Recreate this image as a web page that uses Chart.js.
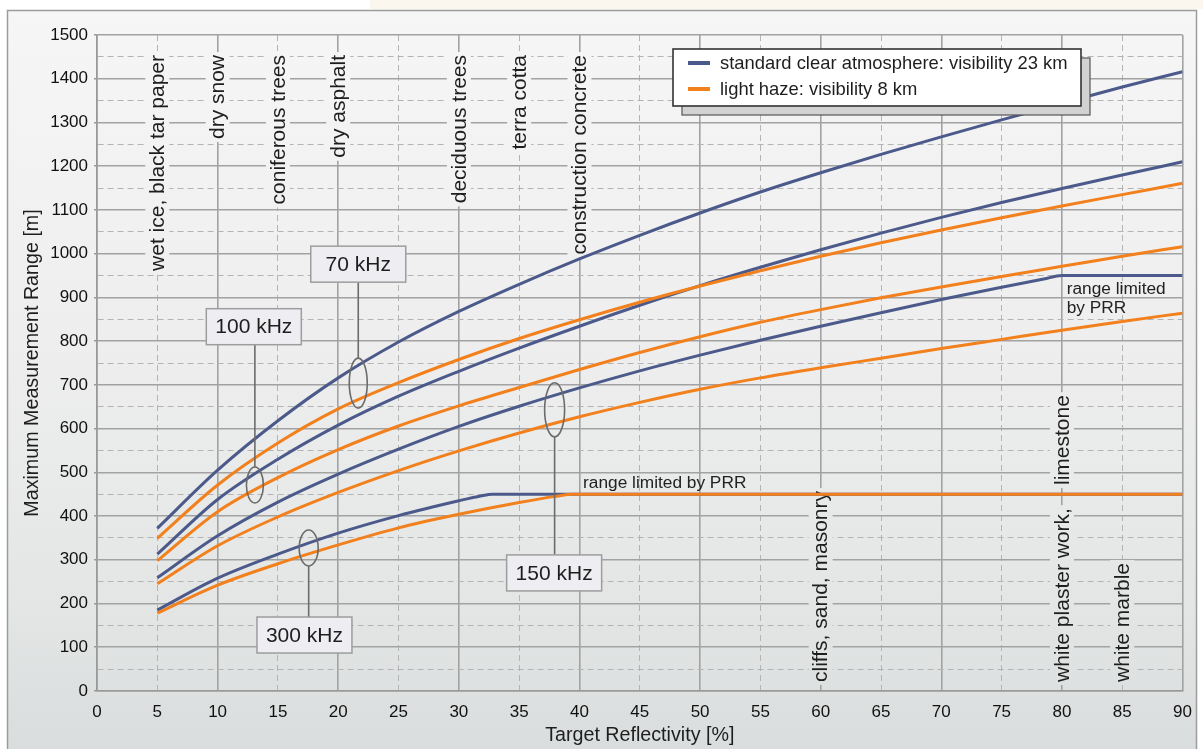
<!DOCTYPE html>
<html>
<head>
<meta charset="utf-8">
<script src="https://cdn.jsdelivr.net/npm/chart.js@4.4.1/dist/chart.umd.min.js"></script>
<style>
html,body{margin:0;padding:0;background:#fff;overflow:hidden}
canvas{display:block}
</style>
</head>
<body>
<canvas id="c" width="1203" height="749"></canvas>
<script>
// ---------- data ----------
const reflectivity = [5,10,15,20,25,30,35,40,45,50,55,60,65,70,75,80,85,90];
const clear70  = [372,505,618,716,798,868,930,988,1042,1093,1141,1185,1227,1267,1306,1344,1381,1416];
const haze70   = [349,471,567,645,705,758,806,849,889,926,961,994,1025,1054,1082,1109,1135,1161];
const clear100 = [313,438,530,608,674,731,784,834,882,927,969,1009,1047,1083,1117,1149,1180,1210];
const haze100  = [298,410,488,552,606,652,694,735,774,810,843,872,899,924,948,971,994,1016];
const clear150X = [5,10,15,20,25,30,35,40,45,50,55,60,65,70,75,78.5,80,85,90];
const clear150  = [259,355,432,496,553,605,651,693,732,768,802,834,865,895,923,942,950,950,950];
const haze150  = [245,332,398,454,504,549,590,627,660,690,716,739,761,783,804,825,845,864];
const clear300X = [5,10,15,20,25,30,31.8,32.8,90];
const clear300  = [185,258,313,361,401,435,446,450,450];
const haze300X  = [5,10,15,20,25,30,35,38,39.5,90];
const haze300   = [178,242,291,334,373,404,431,445,450,450];

const xTicks = [0,5,10,15,20,25,30,35,40,45,50,55,60,65,70,75,80,85,90];
const yTicks = [];
for (let v = 0; v <= 1500; v += 50) yTicks.push(v);

const legendLabels = ['standard clear atmosphere: visibility 23 km', 'light haze: visibility 8 km'];
const blue = '#4b5a8a';
const orange = '#f2801c';

const materialsTop = [
  ['wet ice, black tar paper', 5], ['dry snow', 10], ['coniferous trees', 15], ['dry asphalt', 20],
  ['deciduous trees', 30], ['terra cotta', 35], ['construction concrete', 40]
];
const materialsBottom = [
  ['cliffs, sand, masonry', 60, 0], ['white plaster work,', 80, 0], ['white marble', 85, 0], ['limestone', 80, 471]
];
const freqTags = [
  {label:'70 kHz',  boxX:21.66, boxY:976, ringX:21.66, ringY:704, rx:9,   ry:25},
  {label:'100 kHz', boxX:13.0,  boxY:833, ringX:13.09, ringY:471, rx:8.5, ry:18},
  {label:'150 kHz', boxX:37.9,  boxY:270, ringX:37.94, ringY:643, rx:10,  ry:27},
  {label:'300 kHz', boxX:17.2,  boxY:128, ringX:17.55, ringY:327, rx:9.5, ry:18}
];
const notes = [
  {lines:['range limited by PRR'], x:40.3, y:476},
  {lines:['range limited','by PRR'], x:80.4, y:919}
];

const FONT = '"Liberation Sans", Arial, Helvetica, sans-serif';
const pts = (xs, ys) => xs.map((x, i) => ({x: x, y: ys[i]}));

function bgGradient(ctx) {
  const g = ctx.createLinearGradient(0, 10, 0, 749);
  g.addColorStop(0, '#f6f6f6');
  g.addColorStop(0.45, '#eeeeee');
  g.addColorStop(0.8, '#e4e6e6');
  g.addColorStop(1, '#dadddd');
  return g;
}

const backgroundPlugin = {
  id: 'pageBg',
  beforeDraw(chart) {
    const ctx = chart.ctx;
    ctx.save();
    ctx.fillStyle = '#ffffff';
    ctx.fillRect(0, 0, chart.width, chart.height);
    ctx.fillStyle = '#fcf7ee';
    ctx.fillRect(370, 0, chart.width - 370, 9);
    ctx.fillStyle = bgGradient(ctx);
    ctx.fillRect(7, 10, 1190, 745);
    ctx.strokeStyle = '#9c9c9c';
    ctx.lineWidth = 1.5;
    ctx.strokeRect(7.5, 10.5, 1189, 745);
    ctx.restore();
  }
};

const materialPlugin = {
  id: 'materials',
  beforeDatasetsDraw(chart) {
    const ctx = chart.ctx, xs = chart.scales.x, ys = chart.scales.y, area = chart.chartArea;
    ctx.save();
    ctx.font = '21px ' + FONT;
    const grad = bgGradient(ctx);
    const drawOne = (text, px, yStart) => {
      const w = ctx.measureText(text).width;
      ctx.fillStyle = grad;
      ctx.fillRect(px - 12, yStart - w - 3, 24, w + 6);
      ctx.save();
      ctx.translate(px, yStart);
      ctx.rotate(-Math.PI / 2);
      ctx.fillStyle = '#1e1e1e';
      ctx.textAlign = 'left';
      ctx.textBaseline = 'middle';
      ctx.fillText(text, 0, 1);
      ctx.restore();
    };
    materialsTop.forEach(([t, x]) => {
      const w = ctx.measureText(t).width;
      drawOne(t, xs.getPixelForValue(x), area.top + 20 + w);
    });
    materialsBottom.forEach(([t, x, yv]) => {
      const yStart = yv ? ys.getPixelForValue(yv) : area.bottom - 9;
      drawOne(t, xs.getPixelForValue(x), yStart);
    });
    ctx.restore();
  }
};

const annotationPlugin = {
  id: 'freqTags',
  afterDatasetsDraw(chart) {
    const ctx = chart.ctx, xs = chart.scales.x, ys = chart.scales.y;
    ctx.save();
    // notes
    ctx.fillStyle = '#222';
    ctx.font = '17.3px ' + FONT;
    ctx.textAlign = 'left';
    ctx.textBaseline = 'middle';
    notes.forEach(n => {
      const px = xs.getPixelForValue(n.x), py = ys.getPixelForValue(n.y);
      n.lines.forEach((l, i) => ctx.fillText(l, px, py + i * 19));
    });
    // tags
    freqTags.forEach(t => {
      const bx = xs.getPixelForValue(t.boxX), by = ys.getPixelForValue(t.boxY);
      const rx = xs.getPixelForValue(t.ringX), ry = ys.getPixelForValue(t.ringY);
      const bw = 95, bh = 36;
      ctx.strokeStyle = '#6b6b6b';
      ctx.lineWidth = 1.6;
      ctx.beginPath();
      ctx.ellipse(rx, ry, t.rx, t.ry, 0, 0, Math.PI * 2);
      ctx.stroke();
      ctx.beginPath();
      if (by < ry) { ctx.moveTo(rx, by + bh / 2); ctx.lineTo(rx, ry - t.ry); }
      else { ctx.moveTo(rx, by - bh / 2); ctx.lineTo(rx, ry + t.ry); }
      ctx.stroke();
      ctx.fillStyle = '#eeeef2';
      ctx.fillRect(bx - bw / 2, by - bh / 2, bw, bh);
      ctx.strokeStyle = '#9d9d9d';
      ctx.lineWidth = 1.5;
      ctx.strokeRect(bx - bw / 2, by - bh / 2, bw, bh);
      ctx.fillStyle = '#1e1e1e';
      ctx.font = '21px ' + FONT;
      ctx.textAlign = 'center';
      ctx.textBaseline = 'middle';
      ctx.fillText(t.label, bx, by + 1);
    });
    // legend
    const L = {x: 673, y: 49, w: 408, h: 57};
    ctx.fillStyle = '#d2d2d2';
    ctx.fillRect(L.x + 9, L.y + 9, L.w, L.h);
    ctx.strokeStyle = '#555';
    ctx.lineWidth = 1.2;
    ctx.strokeRect(L.x + 9, L.y + 9, L.w, L.h);
    ctx.fillStyle = '#ffffff';
    ctx.fillRect(L.x, L.y, L.w, L.h);
    ctx.strokeStyle = '#333';
    ctx.lineWidth = 1.6;
    ctx.strokeRect(L.x, L.y, L.w, L.h);
    const cols = [blue, orange];
    ctx.font = '18.4px ' + FONT;
    ctx.textAlign = 'left';
    ctx.textBaseline = 'middle';
    legendLabels.forEach((lab, i) => {
      const yy = L.y + 14 + i * 26;
      ctx.strokeStyle = cols[i];
      ctx.lineWidth = 4;
      ctx.beginPath();
      ctx.moveTo(L.x + 15, yy); ctx.lineTo(L.x + 37, yy);
      ctx.stroke();
      ctx.fillStyle = '#1e1e1e';
      ctx.fillText(lab, L.x + 47, yy + 1);
    });
    ctx.restore();
  }
};

function series(label, xs, ys, color, order) {
  return {
    label: label, data: pts(xs, ys), borderColor: color, backgroundColor: color,
    borderWidth: 3, pointRadius: 0, fill: false, cubicInterpolationMode: 'monotone', order: order
  };
}

const isMajorX = v => v % 10 === 0;
const isMajorY = v => v % 100 === 0;

new Chart(document.getElementById('c'), {
  type: 'line',
  data: {
    datasets: [
      series('70 kHz clear', reflectivity, clear70, blue, 1),
      series('100 kHz clear', reflectivity, clear100, blue, 1),
      series('150 kHz clear', clear150X, clear150, blue, 1),
      series('300 kHz clear', clear300X, clear300, blue, 1),
      series('70 kHz haze', reflectivity, haze70, orange, 0),
      series('100 kHz haze', reflectivity, haze100, orange, 0),
      series('150 kHz haze', reflectivity, haze150, orange, 0),
      series('300 kHz haze', haze300X, haze300, orange, 0)
    ]
  },
  options: {
    responsive: false,
    animation: false,
    devicePixelRatio: 1,
    layout: {padding: {left: 0, top: 35, right: 18, bottom: 0}},
    plugins: {legend: {display: false}, tooltip: {enabled: false}},
    scales: {
      x: {
        type: 'linear', min: 0, max: 90,
        afterBuildTicks: s => { s.ticks = xTicks.map(v => ({value: v})); },
        afterFit: s => { s.height = 58; },
        ticks: {autoSkip: false, maxRotation: 0, padding: 11, color: '#111', font: {family: FONT, size: 17}},
        grid: {
          drawTicks: false,
          color: c => (c.tick && !isMajorX(c.tick.value)) ? '#b4b4b4' : '#a2a2a2',
          lineWidth: c => (c.tick && !isMajorX(c.tick.value)) ? 1 : 1.6
        },
        border: {display: true, color: '#999', width: 1.6,
          dash: c => (c.tick && !isMajorX(c.tick.value)) ? [6, 4] : []},
        title: {display: true, text: 'Target Reflectivity [%]', color: '#1e1e1e',
          font: {family: FONT, size: 19.7}, padding: {top: 0, bottom: 1.2}}
      },
      y: {
        type: 'linear', min: 0, max: 1500,
        afterBuildTicks: s => { s.ticks = yTicks.map(v => ({value: v})); },
        afterFit: s => { s.width = 97; },
        ticks: {autoSkip: false, padding: 6, color: '#111', font: {family: FONT, size: 17},
          callback: v => isMajorY(v) ? String(v) : ''},
        grid: {
          drawTicks: true, tickLength: 3,
          tickColor: c => (c.tick && isMajorY(c.tick.value)) ? '#999' : 'rgba(0,0,0,0)',
          tickWidth: 1.6,
          color: c => (c.tick && !isMajorY(c.tick.value)) ? '#b4b4b4' : '#a2a2a2',
          lineWidth: c => (c.tick && !isMajorY(c.tick.value)) ? 1 : 1.6
        },
        border: {display: true, color: '#999', width: 1.6,
          dash: c => (c.tick && !isMajorY(c.tick.value)) ? [6, 4] : []},
        title: {display: true, text: 'Maximum Measurement Range [m]', color: '#1e1e1e',
          font: {family: FONT, size: 19.7}, padding: {top: 20.5, bottom: 0}}
      }
    }
  },
  plugins: [backgroundPlugin, materialPlugin, annotationPlugin]
});
</script>
</body>
</html>
